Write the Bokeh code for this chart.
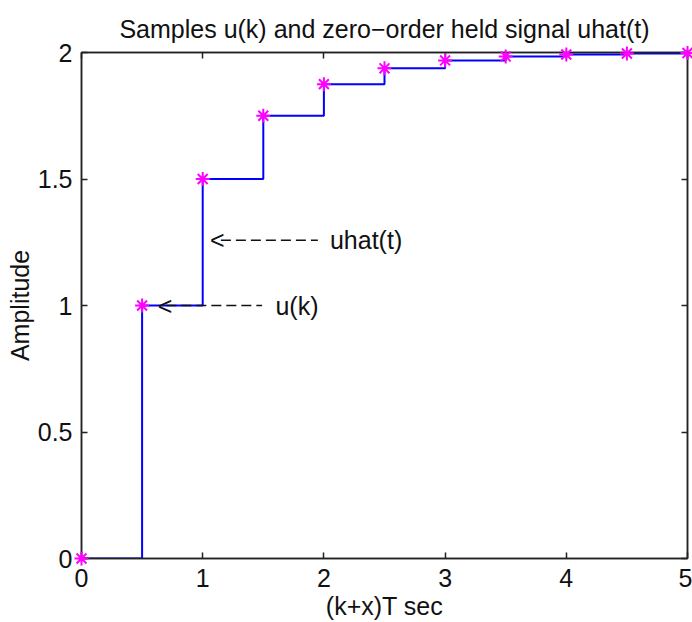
from bokeh.plotting import figure
from bokeh.models import Range1d, LinearAxis, FixedTicker, NumeralTickFormatter, Title
from bokeh.core.properties import value
from bokeh.embed import file_html
from bokeh.resources import INLINE

# sample instants (k+x)T and sample values u(k)
t_samples = [0, 0.5, 1.0, 1.5, 2.0, 2.5, 3.0, 3.5, 4.0, 4.5, 5.0]
u_samples = [0, 1.0, 1.5, 1.75, 1.875, 1.9375, 1.96875, 1.984375, 1.9921875, 1.99609375, 1.998046875]

x_ticks = [0, 1, 2, 3, 4, 5]
y_ticks = [0, 0.5, 1, 1.5, 2]

title_text = "Samples u(k) and zero\u2212order held signal uhat(t)"

# annotation texts with their arrow anchors (data coords)
ann_text = ["uhat(t)", "u(k)"]
ann_arrow_x = [1.06, 0.63]
ann_dash_x0 = [1.15, 0.70]
ann_dash_x1 = [1.95, 1.49]
ann_text_x = [2.05, 1.60]
ann_y = [1.258, 1.0]

FONT = "Liberation Sans"
FS = "25px"

p = figure(width=692, height=622, output_backend="svg", toolbar_location=None,
           x_range=Range1d(0, 5), y_range=Range1d(0, 2),
           min_border_left=81, min_border_right=5, min_border_top=52, min_border_bottom=63)

p.xgrid.visible = False
p.ygrid.visible = False
p.outline_line_color = "#222222"
p.outline_line_width = 1.5
p.background_fill_color = "white"
p.border_fill_color = "white"

p.step(t_samples, u_samples, mode="after", line_color="#0000ff", line_width=2)
p.scatter(t_samples, u_samples, marker="asterisk", size=14, line_color="#ff00ff", line_width=2,
          level="overlay")

# annotations
p.segment(x0=ann_dash_x0, y0=ann_y, x1=ann_dash_x1, y1=ann_y, line_color="#111111",
          line_width=1.5, line_dash="10 5")
p.text(x=ann_arrow_x, y=ann_y, text=["<", "<"], text_font=value(FONT), text_font_size=FS,
       text_baseline="middle", text_align="left", text_color="#111111")
p.text(x=ann_text_x, y=ann_y, text=ann_text, text_font=value(FONT), text_font_size=FS,
       text_baseline="middle", text_align="left", text_color="#111111")

def style_axis(ax):
    ax.axis_line_color = "#222222"
    ax.axis_line_width = 1.5
    ax.major_tick_line_color = "#222222"
    ax.major_tick_line_width = 1.5
    ax.major_tick_in = 6
    ax.major_tick_out = 0
    ax.minor_tick_line_color = None
    ax.major_label_text_font = FONT
    ax.major_label_text_font_size = FS
    ax.major_label_text_color = "#111111"
    ax.axis_label_text_font = FONT
    ax.axis_label_text_font_size = FS
    ax.axis_label_text_font_style = "normal"
    ax.axis_label_text_color = "#111111"

p.xaxis.ticker = FixedTicker(ticks=x_ticks)
p.yaxis.ticker = FixedTicker(ticks=y_ticks)
p.yaxis.formatter = NumeralTickFormatter(format="0.[0]")
p.xaxis.axis_label = "(k+x)T sec"
p.yaxis.axis_label = "Amplitude"
style_axis(p.xaxis[0])
style_axis(p.yaxis[0])
p.xaxis.major_label_standoff = 10
p.yaxis.major_label_standoff = 9
p.xaxis.axis_label_standoff = 2
p.yaxis.axis_label_standoff = 1

top = LinearAxis(ticker=FixedTicker(ticks=x_ticks))
right = LinearAxis(ticker=FixedTicker(ticks=y_ticks))
for ax, ticks in ((top, x_ticks), (right, y_ticks)):
    style_axis(ax)
    ax.major_label_overrides = {t: "" for t in ticks}
    ax.major_label_text_color = None
    ax.major_label_standoff = 0
p.add_layout(top, "above")
p.add_layout(right, "right")

title = Title(text=title_text, align="center", text_font=FONT, text_font_size=FS,
              text_font_style="normal", text_color="#111111", standoff=19)
p.add_layout(title, "above")

open("out.html", "w").write(file_html(p, INLINE))
